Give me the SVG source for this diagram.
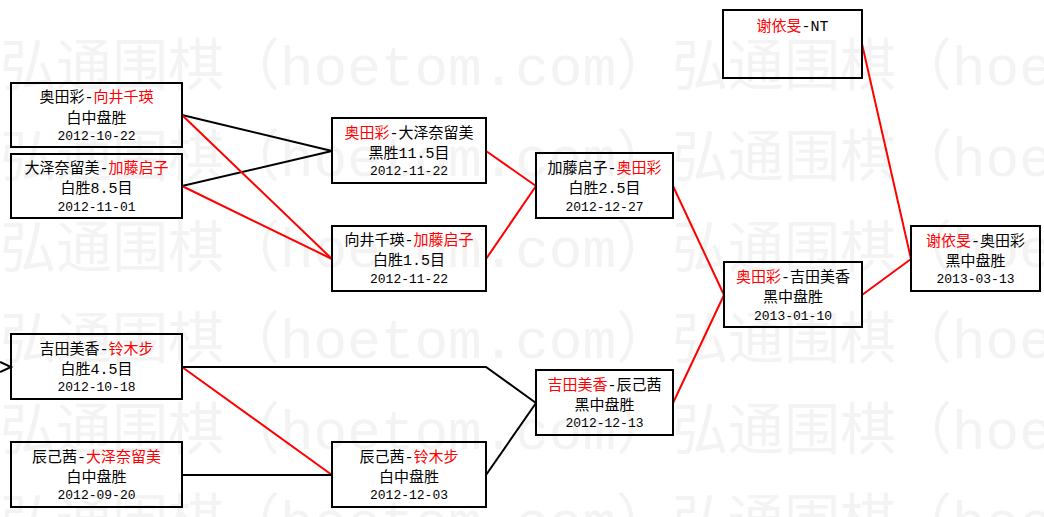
<svg xmlns="http://www.w3.org/2000/svg" width="1044" height="517" viewBox="0 0 1044 517">
<style>
.wm{font-family:"Liberation Mono","Noto Sans CJK SC",monospace;font-size:56px;fill:#f3f3f3}
.box{fill:none;stroke:#000;stroke-width:2}
.t{font-family:"Liberation Mono","Noto Sans CJK SC",monospace;font-size:15px;fill:#000;text-anchor:middle}
.d{font-family:"Liberation Mono","Noto Sans CJK SC",monospace;font-size:13px;fill:#000;text-anchor:middle}
.r{fill:#f00}
.cb{fill:none;stroke:#000;stroke-width:2}
.cr{fill:none;stroke:#f00;stroke-width:2}
</style>
<rect x="0" y="0" width="1044" height="517" fill="#fff"/>
<g id="watermark">
<text class="wm" x="0" y="85">弘通围棋（hoetom.com）</text><text class="wm" x="672" y="85">弘通围棋（hoe</text>
<text class="wm" x="0" y="176">弘通围棋（hoetom.com）</text><text class="wm" x="672" y="176">弘通围棋（hoe</text>
<text class="wm" x="0" y="267">弘通围棋（hoetom.com）</text><text class="wm" x="672" y="267">弘通围棋（hoe</text>
<text class="wm" x="0" y="358">弘通围棋（hoetom.com）</text><text class="wm" x="672" y="358">弘通围棋（hoe</text>
<text class="wm" x="0" y="449">弘通围棋（hoetom.com）</text><text class="wm" x="672" y="449">弘通围棋（hoe</text>
<text class="wm" x="0" y="540">弘通围棋（hoetom.com）</text><text class="wm" x="672" y="540">弘通围棋（hoe</text>
</g>
<g id="connectors">
<line class="cb" x1="182" y1="115" x2="332" y2="151"/>
<line class="cb" x1="182" y1="186" x2="332" y2="151"/>
<line class="cr" x1="182" y1="115" x2="332" y2="259"/>
<line class="cr" x1="182" y1="186" x2="332" y2="259"/>
<line class="cr" x1="486" y1="151" x2="536" y2="186"/>
<line class="cr" x1="486" y1="259" x2="536" y2="186"/>
<line class="cr" x1="673" y1="186" x2="724" y2="295"/>
<line class="cr" x1="673" y1="403" x2="724" y2="295"/>
<line class="cr" x1="862" y1="44" x2="911" y2="259"/>
<line class="cr" x1="862" y1="295" x2="911" y2="259"/>
<line class="cr" x1="182" y1="367" x2="332" y2="475"/>
<polyline class="cb" points="182,367 486,367 536,403"/>
<line class="cb" x1="182" y1="475" x2="332" y2="475"/>
<line class="cb" x1="486" y1="475" x2="536" y2="403"/>
<polyline class="cb" points="0,362 11,367 0,372"/>
</g>
<g id="nodeA"><rect class="box" x="11" y="83" width="171" height="64"/>
<text class="t" x="96.5" y="102">奥田彩-<tspan class="r">向井千瑛</tspan></text><text class="t" x="96.5" y="123">白中盘胜</text><text class="d" x="96.5" y="140">2012-10-22</text></g>
<g id="nodeB"><rect class="box" x="11" y="154" width="171" height="64"/>
<text class="t" x="96.5" y="173">大泽奈留美-<tspan class="r">加藤启子</tspan></text><text class="t" x="96.5" y="193">白胜8.5目</text><text class="d" x="96.5" y="211">2012-11-01</text></g>
<g id="nodeC"><rect class="box" x="332" y="118" width="154" height="65"/>
<text class="t" x="409" y="138"><tspan class="r">奥田彩</tspan>-大泽奈留美</text><text class="t" x="409" y="158">黑胜11.5目</text><text class="d" x="409" y="175">2012-11-22</text></g>
<g id="nodeD"><rect class="box" x="332" y="226" width="154" height="65"/>
<text class="t" x="409" y="245">向井千瑛-<tspan class="r">加藤启子</tspan></text><text class="t" x="409" y="265">白胜1.5目</text><text class="d" x="409" y="283">2012-11-22</text></g>
<g id="nodeE"><rect class="box" x="536" y="153" width="137" height="65"/>
<text class="t" x="604.5" y="173">加藤启子-<tspan class="r">奥田彩</tspan></text><text class="t" x="604.5" y="193">白胜2.5目</text><text class="d" x="604.5" y="211">2012-12-27</text></g>
<g id="nodeF"><rect class="box" x="723" y="10" width="139" height="68"/>
<text class="t" x="792.5" y="31"><tspan class="r">谢依旻</tspan>-NT</text></g>
<g id="nodeH"><rect class="box" x="724" y="262" width="138" height="65"/>
<text class="t" x="793" y="282"><tspan class="r">奥田彩</tspan>-吉田美香</text><text class="t" x="793" y="302">黑中盘胜</text><text class="d" x="793" y="320">2013-01-10</text></g>
<g id="nodeG"><rect class="box" x="911" y="226" width="129" height="65"/>
<text class="t" x="975.5" y="246"><tspan class="r">谢依旻</tspan>-奥田彩</text><text class="t" x="975.5" y="266">黑中盘胜</text><text class="d" x="975.5" y="283">2013-03-13</text></g>
<g id="nodeI"><rect class="box" x="11" y="334" width="171" height="65"/>
<text class="t" x="96.5" y="354">吉田美香-<tspan class="r">铃木步</tspan></text><text class="t" x="96.5" y="374">白胜4.5目</text><text class="d" x="96.5" y="391">2012-10-18</text></g>
<g id="nodeK"><rect class="box" x="536" y="370" width="137" height="65"/>
<text class="t" x="604.5" y="390"><tspan class="r">吉田美香</tspan>-辰己茜</text><text class="t" x="604.5" y="410">黑中盘胜</text><text class="d" x="604.5" y="427">2012-12-13</text></g>
<g id="nodeJ"><rect class="box" x="11" y="442" width="171" height="65"/>
<text class="t" x="96.5" y="462">辰己茜-<tspan class="r">大泽奈留美</tspan></text><text class="t" x="96.5" y="482">白中盘胜</text><text class="d" x="96.5" y="499">2012-09-20</text></g>
<g id="nodeL"><rect class="box" x="332" y="442" width="154" height="65"/>
<text class="t" x="409" y="462">辰己茜-<tspan class="r">铃木步</tspan></text><text class="t" x="409" y="482">白中盘胜</text><text class="d" x="409" y="499">2012-12-03</text></g>
</svg>
